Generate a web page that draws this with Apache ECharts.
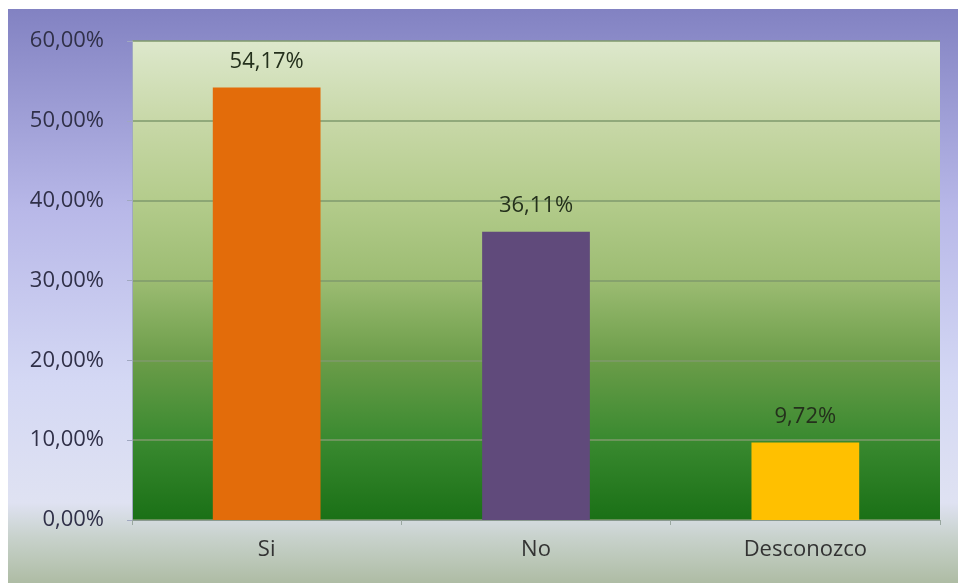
<!DOCTYPE html>
<html>
<head>
<meta charset="utf-8">
<script src="https://cdn.jsdelivr.net/npm/echarts@6/dist/echarts.min.js"></script>
<style>
  html, body { margin: 0; padding: 0; background: #fff; }
  #chart { position: absolute; left: 8px; top: 9px; width: 950px; height: 574px; }
</style>
</head>
<body>
<div id="chart"></div>
<script>
var categories = ["Si", "No", "Desconozco"];
var values = [54.17, 36.11, 9.72];
var barColors = ["#e36c0a", "#604a7b", "#ffc000"];

var chart = echarts.init(document.getElementById("chart"));

var option = {
  backgroundColor: new echarts.graphic.LinearGradient(0, 0, 0, 1, [
    { offset: 0, color: "#8282c2" },
    { offset: 0.35, color: "#b8b8e8" },
    { offset: 0.65, color: "#d4d8f4" },
    { offset: 0.86, color: "#dfe2f2" },
    { offset: 0.92, color: "#c8d2cc" },
    { offset: 1, color: "#aebca4" }
  ]),
  textStyle: { fontFamily: "Open Sans" },
  grid: {
    left: 124,
    top: 32,
    right: 18,
    bottom: 63,
    show: true,
    borderWidth: 0,
    backgroundColor: new echarts.graphic.LinearGradient(0, 0, 0, 1, [
      { offset: 0, color: "#dde8cc" },
      { offset: 0.165, color: "#c8d8a8" },
      { offset: 0.33, color: "#b4cc8c" },
      { offset: 0.5, color: "#9cbc72" },
      { offset: 0.67, color: "#6a9c48" },
      { offset: 0.83, color: "#3a8a30" },
      { offset: 1, color: "#1a7016" }
    ])
  },
  xAxis: {
    type: "category",
    data: categories,
    axisLine: { lineStyle: { color: "#8a9a90", width: 1 } },
    axisTick: { show: true, length: 5, lineStyle: { color: "#9aa8a0" } },
    axisLabel: { color: "#333", fontSize: 22, margin: 19 }
  },
  yAxis: {
    type: "value",
    min: 0,
    max: 60,
    interval: 10,
    axisLine: { show: true, lineStyle: { color: "#a0a8c0" } },
    axisTick: { show: true, length: 5, lineStyle: { color: "#a0a8c0" } },
    axisLabel: {
      color: "#303048",
      fontSize: 22,
      margin: 28,
      formatter: function (v) { return v.toFixed(2).replace(".", ",") + "%"; }
    },
    splitLine: { show: true, lineStyle: { color: "#7f9a6c", width: 1.5 } }
  },
  series: [
    {
      type: "bar",
      barWidth: "40%",
      data: values.map(function (v, i) {
        return { value: v, itemStyle: { color: barColors[i] } };
      }),
      label: {
        show: true,
        position: "top",
        distance: 15,
        color: "#24301c",
        fontSize: 22,
        formatter: function (p) { return p.value.toFixed(2).replace(".", ",") + "%"; }
      }
    }
  ]
};

chart.setOption(option);
</script>
</body>
</html>
